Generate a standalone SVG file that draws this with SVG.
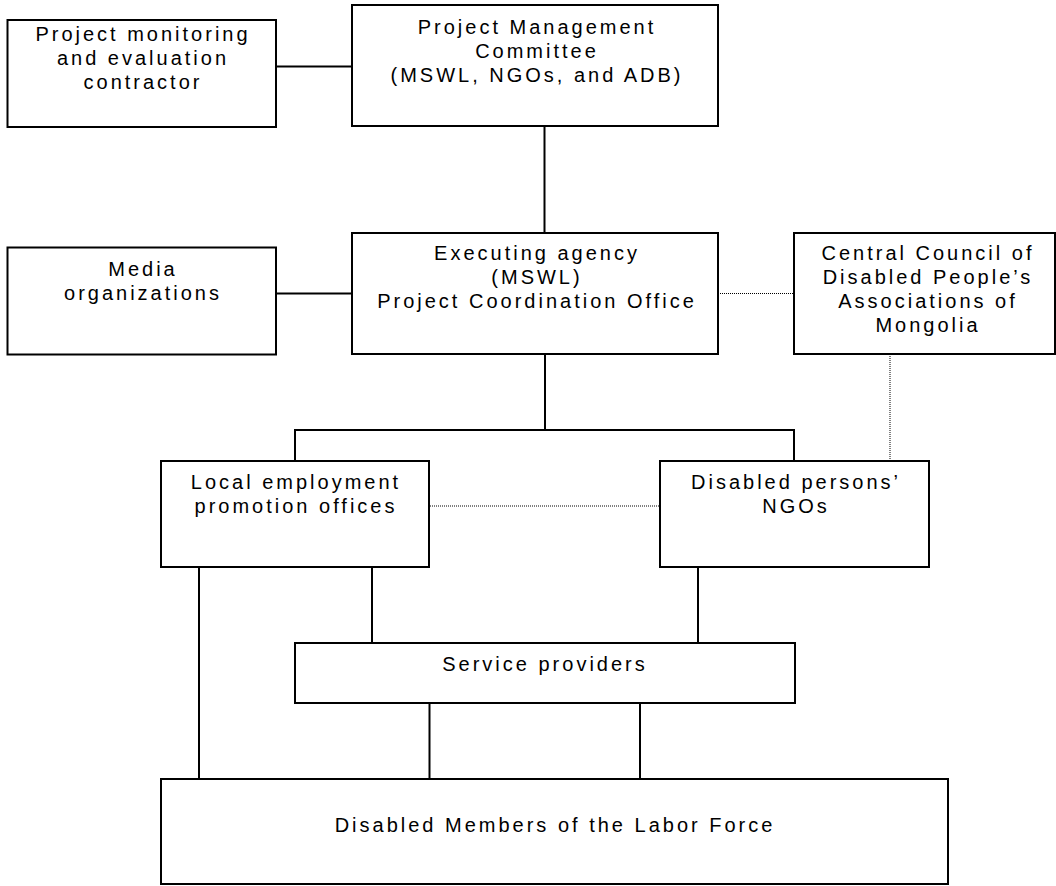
<svg xmlns="http://www.w3.org/2000/svg" width="1056" height="886" viewBox="0 0 1056 886">
<style>
.box{fill:#fff;stroke:#000;stroke-width:2}
.t{font-family:"Liberation Sans",Arial,sans-serif;font-size:20px;letter-spacing:3px;text-anchor:middle;fill:#000}
.ln{stroke:#000;stroke-width:2;fill:none}
.dt{stroke:#000;stroke-width:1;stroke-dasharray:1 1;fill:none}
</style>
<rect width="1056" height="886" fill="#fff"/>
<g id="connectors">
<line class="ln" x1="276" y1="66.5" x2="352" y2="66.5"/>
<line class="ln" x1="544.5" y1="126" x2="544.5" y2="233"/>
<line class="ln" x1="276" y1="293.5" x2="352" y2="293.5"/>
<line class="ln" x1="545" y1="354" x2="545" y2="430"/>
<polyline class="ln" points="295,461 295,430 794,430 794,461"/>
<line class="ln" x1="199" y1="567" x2="199" y2="779"/>
<line class="ln" x1="372" y1="567" x2="372" y2="643"/>
<line class="ln" x1="698" y1="567" x2="698" y2="643"/>
<line class="ln" x1="429.5" y1="703" x2="429.5" y2="779"/>
<line class="ln" x1="640" y1="703" x2="640" y2="779"/>
<line class="dt" x1="718" y1="293.5" x2="794" y2="293.5"/>
<line class="dt" x1="890" y1="354" x2="890" y2="460"/>
<line class="dt" x1="430" y1="506" x2="660" y2="506"/>
</g>
<g id="monitoring">
<rect class="box" x="7.5" y="20" width="268.5" height="107"/>
<text class="t" x="143" y="41">Project monitoring</text>
<text class="t" x="143" y="65">and evaluation</text>
<text class="t" x="143" y="89">contractor</text>
</g>
<g id="pmc">
<rect class="box" x="352" y="5" width="366" height="121"/>
<text class="t" x="537" y="34">Project Management</text>
<text class="t" x="537" y="58">Committee</text>
<text class="t" x="537" y="82">(MSWL, NGOs, and ADB)</text>
</g>
<g id="media">
<rect class="box" x="7.5" y="247.5" width="268.5" height="107"/>
<text class="t" x="143" y="276">Media</text>
<text class="t" x="143" y="300">organizations</text>
</g>
<g id="executing">
<rect class="box" x="352" y="233" width="366" height="121"/>
<text class="t" x="537" y="260">Executing agency</text>
<text class="t" x="537" y="284">(MSWL)</text>
<text class="t" x="537" y="308">Project Coordination Office</text>
</g>
<g id="central">
<rect class="box" x="794" y="233" width="261" height="121"/>
<text class="t" x="928" y="260">Central Council of</text>
<text class="t" x="928" y="284">Disabled People’s</text>
<text class="t" x="928" y="308">Associations of</text>
<text class="t" x="928" y="332">Mongolia</text>
</g>
<g id="local">
<rect class="box" x="161" y="461" width="268" height="106"/>
<text class="t" x="296" y="489">Local employment</text>
<text class="t" x="296" y="513">promotion offices</text>
</g>
<g id="ngos">
<rect class="box" x="660" y="461" width="269" height="106"/>
<text class="t" x="796" y="489">Disabled persons’</text>
<text class="t" x="796" y="513">NGOs</text>
</g>
<g id="service">
<rect class="box" x="295" y="643" width="500" height="60"/>
<text class="t" x="545" y="671">Service providers</text>
</g>
<g id="members">
<rect class="box" x="161" y="779" width="787" height="105"/>
<text class="t" x="555" y="832">Disabled Members of the Labor Force</text>
</g>
</svg>
